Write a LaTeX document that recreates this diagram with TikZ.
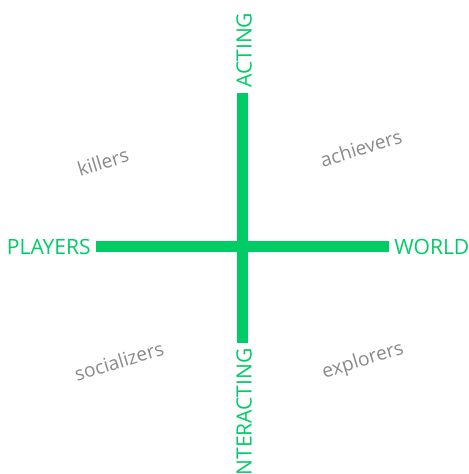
\documentclass[tikz,border=0pt]{standalone}
\usepackage{fontspec}
\setmainfont{Open Sans}
\usetikzlibrary{positioning}

\definecolor{axisgreen}{HTML}{00CC66}
\definecolor{typegray}{HTML}{8A8A8A}

\begin{document}
\begin{tikzpicture}[x=0.75pt, y=-0.75pt,
    bar/.style={draw=axisgreen, line width=8.25pt},
    axislabel/.style={text=axisgreen, inner sep=0pt, font=\fontsize{15.8}{18}\selectfont},
    playertype/.style={text=typegray, inner sep=0pt, rotate=17, font=\fontsize{14.4}{17}\selectfont}]
    \useasboundingbox (0,0) rectangle (468,474);

    % ends of the two axes
    \coordinate (top) at (242.5,93);
    \coordinate (bottom) at (242.5,343);
    \coordinate (left) at (96,246.5);
    \coordinate (right) at (389,246.5);

    \draw[bar] (top) -- (bottom);
    \draw[bar] (left) -- (right);

    \node[axislabel, rotate=90, anchor=west] (acting) at (244,88) {ACTING};
    \node[axislabel, rotate=90, anchor=east] (interacting) at (244,348) {INTERACTING};
    \node[axislabel, left=3.75pt of left] (players) {PLAYERS};
    \node[axislabel, right=3.75pt of right] (world) {WORLD};

    % the four player types
    \node[playertype] (killers) at (103,162) {killers};
    \node[playertype] (achievers) at (361,148) {achievers};
    \node[playertype] (socializers) at (119,361) {socializers};
    \node[playertype] (explorers) at (363,361) {explorers};
\end{tikzpicture}
\end{document}
